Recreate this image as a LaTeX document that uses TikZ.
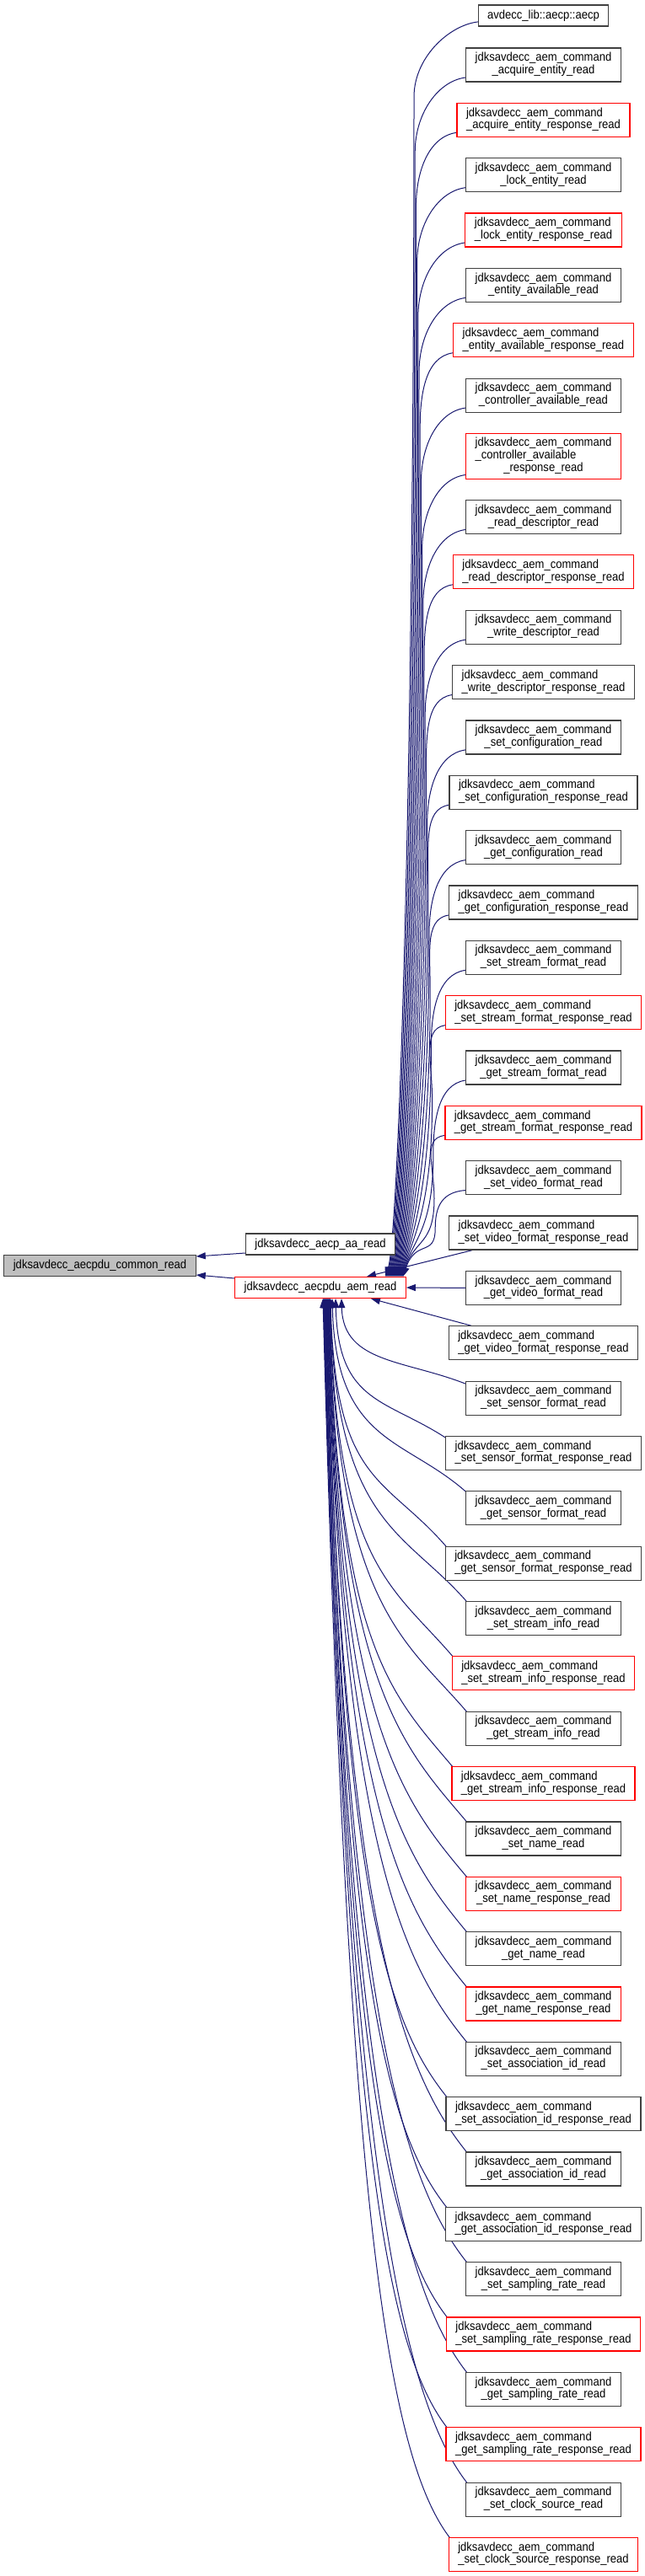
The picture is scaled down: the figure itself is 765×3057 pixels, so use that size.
\documentclass[tikz,border=0pt]{standalone}
\usepackage{fontspec}
\setmainfont{Liberation Sans}[FakeStretch=0.9]
\usetikzlibrary{arrows.meta}
\definecolor{navy}{HTML}{191970}
\definecolor{boxline}{HTML}{404040}
\definecolor{redline}{HTML}{FF0000}
\definecolor{grayfill}{HTML}{BFBFBF}
\newcommand\dlab[1]{\begin{tabular}{@{}l@{}}jdksavdecc\_aem\_command\\\hfill#1\hfill\mbox{}\end{tabular}}
\pgfdeclarelayer{bg}
\pgfsetlayers{bg,main}
\tikzset{
  box/.style={draw=boxline, fill=white, line width=1.2pt, inner xsep=11pt, inner ysep=0pt,
    minimum height=40pt, font=\fontsize{14.5pt}{14.5pt}\selectfont},
  rbox/.style={box, draw=redline},
  one/.style={minimum height=25pt},
  edge/.style={draw=navy, line width=1pt, arrows={Triangle[length=11pt,width=8pt]-}},
}
\begin{document}
\begin{tikzpicture}[x=1pt,y=-1pt]
\useasboundingbox (0,0) rectangle (765,3057);
% left nodes
\node[box,one,fill=grayfill] (common) at (118.5,1502) {jdksavdecc\_aecpdu\_common\_read};
\node[box,one] (aa) at (380,1476.5) {jdksavdecc\_aecp\_aa\_read};
\node[rbox,one] (aem) at (380,1528) {jdksavdecc\_aecpdu\_aem\_read};
% right nodes
\node[box,one] (n1) at (644.5,18.5) {avdecc\_lib::aecp::aecp};
\node[box]  (n2) at (644.5,77) {\dlab{\_acquire\_entity\_read}};
\node[rbox] (n3) at (644.5,142.35) {\dlab{\_acquire\_entity\_response\_read}};
\node[box]  (n4) at (644.5,207.7) {\dlab{\_lock\_entity\_read}};
\node[rbox] (n5) at (644.5,273.05) {\dlab{\_lock\_entity\_response\_read}};
\node[box]  (n6) at (644.5,338.4) {\dlab{\_entity\_available\_read}};
\node[rbox] (n7) at (644.5,403.75) {\dlab{\_entity\_available\_response\_read}};
\node[box]  (n8) at (644.5,469.1) {\dlab{\_controller\_available\_read}};
\node[rbox,minimum height=54pt] (n9) at (644.5,541.5) {\begin{tabular}{@{}l@{}}jdksavdecc\_aem\_command\\\_controller\_available\\\hfill\_response\_read\hfill\mbox{}\end{tabular}};
\node[box]  (n10) at (644.5,613.5) {\dlab{\_read\_descriptor\_read}};
\node[rbox] (n11) at (644.5,678.85) {\dlab{\_read\_descriptor\_response\_read}};
\node[box]  (n12) at (644.5,744.2) {\dlab{\_write\_descriptor\_read}};
\node[box]  (n13) at (644.5,809.55) {\dlab{\_write\_descriptor\_response\_read}};
\node[box]  (n14) at (644.5,874.9) {\dlab{\_set\_configuration\_read}};
\node[box]  (n15) at (644.5,940.25) {\dlab{\_set\_configuration\_response\_read}};
\node[box]  (n16) at (644.5,1005.6) {\dlab{\_get\_configuration\_read}};
\node[box]  (n17) at (644.5,1070.95) {\dlab{\_get\_configuration\_response\_read}};
\node[box]  (n18) at (644.5,1136.3) {\dlab{\_set\_stream\_format\_read}};
\node[rbox] (n19) at (644.5,1201.65) {\dlab{\_set\_stream\_format\_response\_read}};
\node[box]  (n20) at (644.5,1267) {\dlab{\_get\_stream\_format\_read}};
\node[rbox] (n21) at (644.5,1332.35) {\dlab{\_get\_stream\_format\_response\_read}};
\node[box]  (n22) at (644.5,1397.7) {\dlab{\_set\_video\_format\_read}};
\node[box]  (n23) at (644.5,1463.05) {\dlab{\_set\_video\_format\_response\_read}};
\node[box]  (n24) at (644.5,1528.4) {\dlab{\_get\_video\_format\_read}};
\node[box]  (n25) at (644.5,1593.75) {\dlab{\_get\_video\_format\_response\_read}};
\node[box]  (n26) at (644.5,1659.1) {\dlab{\_set\_sensor\_format\_read}};
\node[box]  (n27) at (644.5,1724.45) {\dlab{\_set\_sensor\_format\_response\_read}};
\node[box]  (n28) at (644.5,1789.8) {\dlab{\_get\_sensor\_format\_read}};
\node[box]  (n29) at (644.5,1855.15) {\dlab{\_get\_sensor\_format\_response\_read}};
\node[box]  (n30) at (644.5,1920.5) {\dlab{\_set\_stream\_info\_read}};
\node[rbox] (n31) at (644.5,1985.85) {\dlab{\_set\_stream\_info\_response\_read}};
\node[box]  (n32) at (644.5,2051.2) {\dlab{\_get\_stream\_info\_read}};
\node[rbox] (n33) at (644.5,2116.55) {\dlab{\_get\_stream\_info\_response\_read}};
\node[box]  (n34) at (644.5,2181.9) {\dlab{\_set\_name\_read}};
\node[rbox] (n35) at (644.5,2247.25) {\dlab{\_set\_name\_response\_read}};
\node[box]  (n36) at (644.5,2312.6) {\dlab{\_get\_name\_read}};
\node[rbox] (n37) at (644.5,2377.95) {\dlab{\_get\_name\_response\_read}};
\node[box]  (n38) at (644.5,2443.3) {\dlab{\_set\_association\_id\_read}};
\node[box]  (n39) at (644.5,2508.65) {\dlab{\_set\_association\_id\_response\_read}};
\node[box]  (n40) at (644.5,2574) {\dlab{\_get\_association\_id\_read}};
\node[box]  (n41) at (644.5,2639.35) {\dlab{\_get\_association\_id\_response\_read}};
\node[box]  (n42) at (644.5,2704.7) {\dlab{\_set\_sampling\_rate\_read}};
\node[rbox] (n43) at (644.5,2770.05) {\dlab{\_set\_sampling\_rate\_response\_read}};
\node[box]  (n44) at (644.5,2835.4) {\dlab{\_get\_sampling\_rate\_read}};
\node[rbox] (n45) at (644.5,2900.75) {\dlab{\_get\_sampling\_rate\_response\_read}};
\node[box]  (n46) at (644.5,2966.1) {\dlab{\_set\_clock\_source\_read}};
\node[rbox] (n47) at (644.5,3031.45) {\dlab{\_set\_clock\_source\_response\_read}};
\begin{pgfonlayer}{bg}
\fill[white] (0,0) rectangle (765,3057);
% edges into common_read
\draw[edge] ([yshift=11pt]common.east) -- ([yshift=-10.5pt]aa.west);
\draw[edge] ([yshift=-11pt]common.east) -- ([yshift=11pt]aem.west);
% upper bundle
\foreach \k in {1,...,22} {
  \pgfmathsetmacro\cy{\k==1 ? 18.5 : (\k<9 ? 77+(\k-2)*65.35 : (\k==9 ? 541.5 : 613.5+(\k-10)*65.35))}
  \pgfmathsetmacro\hh{\k==1 ? 12.5 : (\k==9 ? 27 : 20)}
  \pgfmathsetmacro\ey{\cy+\hh-6}
  \pgfmathsetmacro\vy{\ey+min(90,0.45*(1515-\ey))}
  \pgfmathsetmacro\xv{491+1.2*(\k-1)}
  \pgfmathsetmacro\tx{77+(\k-1)}
  \pgfmathsetmacro\ca{\vy+0.6*(1515-\vy)}
  \pgfmathsetmacro\cb{\vy-0.55*(\vy-\ey)}
  \draw[edge] ([xshift=\tx pt]aem.north) .. controls +(15,-45) and (\xv,\ca) .. (\xv,\vy)
     .. controls (\xv,\cb) and +(-35,0) .. ([shift={(6pt,6pt)}]n\k.south west);
}
\draw[edge] ([xshift=55pt]aem.north) -- ([xshift=28pt]n23.south west);
\draw[edge] (aem.east) -- (n24.west);
\draw[edge] ([xshift=60pt]aem.south) -- ([xshift=27pt]n25.north west);
% lower bundle
\foreach \k in {26,...,47} {
  \pgfmathsetmacro\cy{613.5+(\k-10)*65.35}
  \pgfmathsetmacro\ey{\cy-14}
  \pgfmathsetmacro\dy{\ey-1541}
  \pgfmathsetmacro\tx{\k==26 ? 25 : (\k==27 ? 18 : (\k==28 ? 14 : 12-(\k-29)*0.5))}
  \pgfmathsetmacro\ax{0.02*\dy}
  \pgfmathsetmacro\ay{0.75*\dy}
  \pgfmathsetmacro\by{-min(90,0.3*\dy)}
  \draw[edge] ([xshift=\tx pt]aem.south) .. controls +(\ax,\ay) and +(-75,\by)
     .. ([shift={(6pt,-6pt)}]n\k.north west);
}
\end{pgfonlayer}
\end{tikzpicture}
\end{document}
